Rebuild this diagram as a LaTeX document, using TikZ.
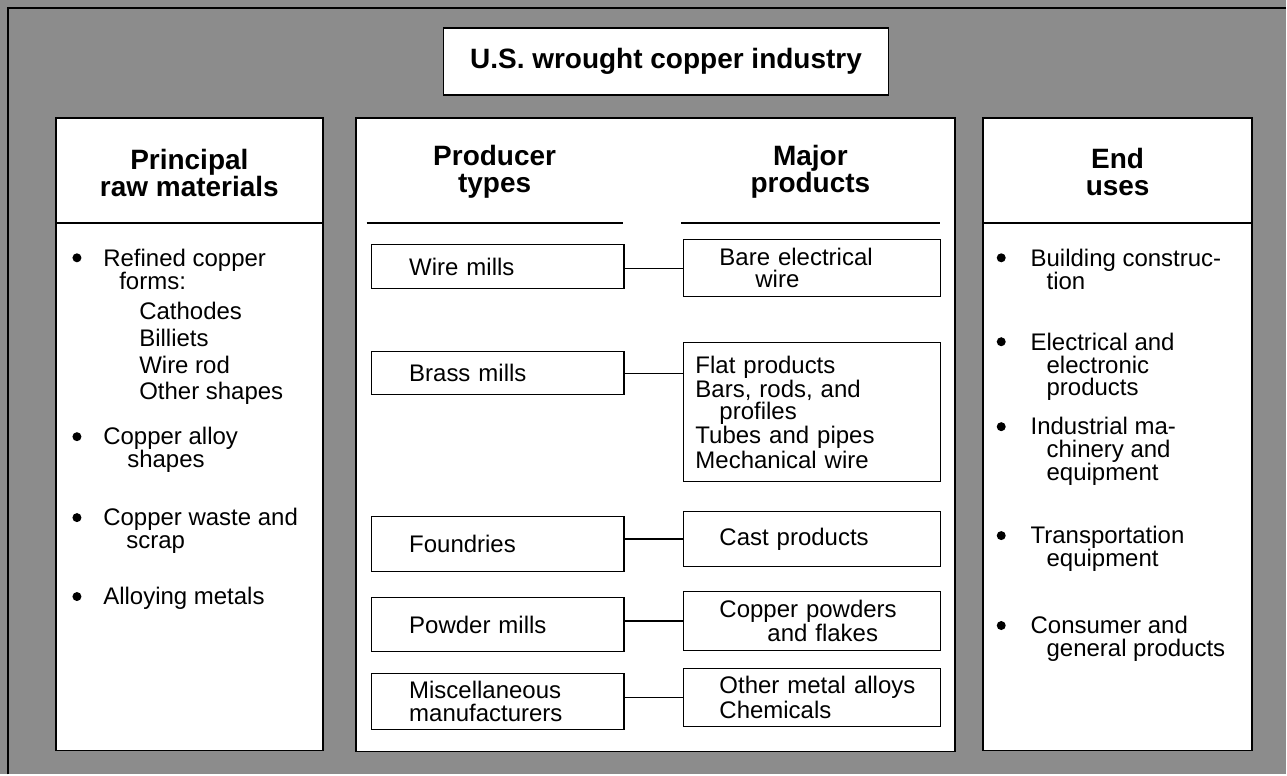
\documentclass[tikz,border=0pt]{standalone}
\usepackage{fontspec}
\setmainfont{Liberation Sans}
\usetikzlibrary{positioning}

\begin{document}
\begin{tikzpicture}[x=0.5pt,y=-0.5pt,
    panel/.style={draw,line width=0.8pt,fill=white},
    headtext/.style={font=\fontsize{14}{13.5}\selectfont\bfseries,align=center},
    itemtext/.style={font=\fontsize{12}{11.5}\selectfont,align=left,anchor=north west,inner sep=0pt},
    dot/.style={circle,fill,inner sep=0pt,minimum size=4.5pt},
    prodbox/.style={draw,fill=white,line width=0.6pt,font=\fontsize{12}{11.5}\selectfont,align=left,inner xsep=19pt,text width=88.5pt},
    outbox/.style={draw,fill=white,line width=0.6pt,font=\fontsize{12}{11}\selectfont,align=left,inner xsep=6pt,text width=116.5pt},
    link/.style={line width=0.6pt}]

    % stippled background and frame
    \fill[black!45] (0,0) rectangle (1287,775);
    \draw[line width=1pt] (8,775) |- (1287,8);

    % title and the three panels
    \node[panel, headtext, line width=0.6pt, minimum width=222.5pt, minimum height=33.5pt] (title) at (666.5,61.5) {U.S. wrought copper industry};
    \node[panel, minimum width=133.5pt, minimum height=316.5pt] (rawpanel) at (189.5,434.5) {};
    \node[panel, minimum width=300pt, minimum height=317pt] (midpanel) at (656,435) {};
    \node[panel, minimum width=134.5pt, minimum height=316.5pt] (usepanel) at (1118.5,434.5) {};

    % column heads
    \node[headtext] (rawhead) at (189.5,173) {Principal\\raw materials};
    \node[headtext] (typehead) at (495,172) {Producer\\types};
    \node[headtext] (prodhead) at (811,172) {Major\\products};
    \node[headtext] (usehead) at (1118.5,172) {End\\uses};
    \draw[line width=0.8pt] (56,223) -- (323,223);
    \draw[line width=0.8pt] (367,223) -- (623,223);
    \draw[line width=0.8pt] (682,223) -- (941,223);
    \draw[line width=0.8pt] (984,223) -- (1253,223);

    % raw materials
    \node[dot] (b1) at (77,258) {};
    \node[itemtext] (refined) at (103,248.5) {Refined copper\\\hspace*{8pt}forms:\\[3.5pt]
        \hspace*{18pt}Cathodes\\[2pt]\hspace*{18pt}Billiets\\[2pt]
        \hspace*{18pt}Wire rod\\[2pt]\hspace*{18pt}Other shapes};
    \node[dot] (b2) at (77,437) {};
    \node[itemtext] (alloy) at (103,427.5) {Copper alloy\\\hspace*{12pt}shapes};
    \node[dot] (b3) at (77,518) {};
    \node[itemtext] (scrap) at (103,508.5) {Copper waste and\\\hspace*{11.5pt}scrap};
    \node[dot] (b4) at (77,597) {};
    \node[itemtext] (metals) at (103,587.5) {Alloying metals};

    % producer types
    \node[prodbox, minimum height=22pt] (wire) at (498,267) {Wire mills};
    \node[prodbox, minimum height=21.5pt] (brass) at (498,373.5) {Brass mills};
    \node[prodbox, minimum height=27.5pt] (foundry) at (498,544.5) {Foundries};
    \node[prodbox, minimum height=27pt] (powder) at (498,625) {Powder mills};
    \node[prodbox, minimum height=28pt] (misc) at (498,702) {Miscellaneous\\manufacturers};

    % major products
    \node[outbox, minimum height=28.5pt] (bare) at (812.5,268.5) {\hspace*{12pt}Bare electrical\\\hspace*{30pt}wire};
    \node[outbox, minimum height=69.5pt] (flat) at (812.5,412.5) {Flat products\\Bars, rods, and\\\hspace*{12pt}profiles\\Tubes and pipes\\Mechanical wire};
    \node[outbox, minimum height=27.5pt] (cast) at (812.5,539.5) {\hspace*{12pt}Cast products};
    \node[outbox, minimum height=29.5pt] (cpowder) at (812.5,621.5) {\hspace*{12pt}Copper powders\\\hspace*{36pt}and flakes};
    \node[outbox, minimum height=29pt] (other) at (812.5,698) {\hspace*{12pt}Other metal alloys\\\hspace*{12pt}Chemicals};

    \draw[link] (bare.west -| wire.east) -- (bare.west);
    \draw[link] (brass.east) -- (brass.east -| flat.west);
    \draw[link] (cast.west -| foundry.east) -- (cast.west);
    \draw[link] (cpowder.west -| powder.east) -- (cpowder.west);
    \draw[link] (other.west -| misc.east) -- (other.west);

    % end uses
    \node[dot] (u1) at (1002,258) {};
    \node[itemtext] (building) at (1031,248.5) {Building construc-\\\hspace*{8pt}tion};
    \node[dot] (u2) at (1002,342) {};
    \node[itemtext] (electric) at (1031,332.5) {Electrical and\\\hspace*{8pt}electronic\\\hspace*{8pt}products};
    \node[dot] (u3) at (1002,427) {};
    \node[itemtext] (machine) at (1031,417.5) {Industrial ma-\\\hspace*{8pt}chinery and\\\hspace*{8pt}equipment};
    \node[dot] (u4) at (1002,536) {};
    \node[itemtext] (transport) at (1031,526.5) {Transportation\\\hspace*{8pt}equipment};
    \node[dot] (u5) at (1002,626) {};
    \node[itemtext] (consumer) at (1031,616.5) {Consumer and\\\hspace*{8pt}general products};
\end{tikzpicture}
\end{document}
